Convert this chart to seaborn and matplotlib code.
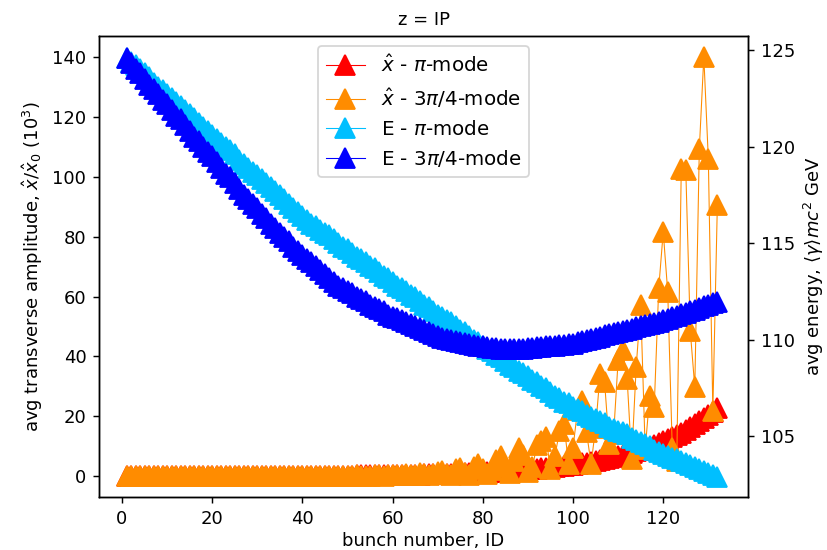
import numpy as np
import matplotlib
matplotlib.use("Agg")
import matplotlib.pyplot as plt
import seaborn as sns

# bunch index
bunch = list(range(1, 133))

# average transverse amplitude, x_hat / x_hat_0 (10^3), pi-mode
amp_pi = [
    0.0, 0.0, 0.0, 0.0, 0.0, 0.0, 0.0, 0.0, 0.0, 0.0,
    0.0, 0.0, 0.0, 0.0, 0.0, 0.0, 0.0, 0.0, 0.0, 0.0,
    0.0, 0.0, 0.0, 0.0, 0.0, 0.0, 0.05, 0.05, 0.05, 0.08,
    0.08, 0.08, 0.09, 0.1, 0.1, 0.1, 0.11, 0.12, 0.13, 0.14,
    0.15, 0.16, 0.17, 0.18, 0.19, 0.2, 0.21, 0.22, 0.23, 0.25,
    0.26, 0.28, 0.29, 0.31, 0.33, 0.35, 0.37, 0.39, 0.41, 0.43,
    0.45, 0.48, 0.5, 0.53, 0.56, 0.6, 0.63, 0.67, 0.71, 0.75,
    0.8, 0.84, 0.89, 0.94, 1.0, 1.05, 1.1, 1.17, 1.23, 1.3,
    1.38, 1.46, 1.54, 1.63, 1.72, 1.82, 1.92, 2.03, 2.15, 2.3,
    2.4, 2.5, 2.65, 2.8, 2.95, 3.1, 3.3, 3.45, 3.65, 3.9,
    4.1, 4.3, 4.6, 4.85, 5.1, 5.4, 5.7, 6.0, 6.4, 6.8,
    7.1, 7.5, 7.9, 8.4, 8.9, 9.4, 9.9, 10.5, 11.1, 11.8,
    12.4, 13.1, 13.8, 14.6, 15.5, 16.4, 17.3, 18.3, 19.4, 20.5, 21.6, 22.8,
]

# average transverse amplitude, 3pi/4-mode
amp_3pi4 = [
    0.0, 0.1, 0.1, 0.0, 0.1, 0.1, 0.0, 0.1, 0.1, 0.1,
    0.1, 0.0, 0.1, 0.1, 0.1, 0.0, 0.1, 0.1, 0.1, 0.1,
    0.1, 0.1, 0.0, 0.1, 0.1, 0.1, 0.1, 0.0, 0.1, 0.1,
    0.1, 0.1, 0.1, 0.0, 0.1, 0.1, 0.2, 0.1, 0.1, 0.1,
    0.2, 0.1, 0.1, 0.2, 0.2, 0.1, 0.1, 0.2, 0.2, 0.1,
    0.2, 0.3, 0.2, 0.1, 0.2, 0.3, 0.3, 0.2, 0.3, 0.5,
    0.3, 0.6, 0.7, 0.4, 0.5, 1.0, 0.9, 0.4, 0.8, 1.6,
    1.8, 0.7, 0.6, 2.4, 2.9, 1.2, 0.6, 3.0, 4.1, 2.5,
    0.8, 2.0, 5.5, 6.9, 3.0, 1.0, 5.0, 9.4, 7.0, 1.5,
    3.0, 10.5, 11.9, 13.0, 2.4, 6.9, 15.0, 17.5, 4.1, 9.6,
    22.0, 25.0, 14.7, 4.1, 16.0, 34.2, 31.4, 10.8, 14.0, 38.7,
    42.0, 32.5, 5.8, 36.4, 57.1, 9.0, 26.9, 23.0, 62.7, 81.6,
    61.5, 9.6, 5.0, 102.6, 102.3, 48.4, 29.7, 109.2, 140.0, 105.9, 21.9, 90.6,
]

# average energy <gamma> m c^2 (GeV), pi-mode
energy_pi = [
    124.6, 124.4, 124.2, 124.0, 123.8, 123.6, 123.3, 123.1, 122.9, 122.7,
    122.5, 122.3, 122.1, 121.9, 121.7, 121.5, 121.2, 121.0, 120.8, 120.6,
    120.4, 120.2, 120.0, 119.8, 119.6, 119.3, 119.1, 118.9, 118.7, 118.5,
    118.3, 118.1, 117.9, 117.7, 117.5, 117.3, 117.0, 116.8, 116.6, 116.4,
    116.2, 116.0, 115.9, 115.7, 115.5, 115.4, 115.2, 115.0, 114.8, 114.7,
    114.5, 114.3, 114.2, 114.0, 113.8, 113.7, 113.5, 113.3, 113.2, 113.0,
    112.8, 112.7, 112.5, 112.3, 112.2, 112.0, 111.8, 111.7, 111.5, 111.3,
    111.2, 111.0, 110.9, 110.7, 110.5, 110.4, 110.2, 110.0, 109.9, 109.7,
    109.5, 109.4, 109.2, 109.1, 108.9, 108.7, 108.6, 108.4, 108.3, 108.1,
    107.9, 107.8, 107.6, 107.5, 107.3, 107.1, 107.0, 106.8, 106.7, 106.5,
    106.4, 106.3, 106.1, 106.0, 105.9, 105.8, 105.7, 105.5, 105.4, 105.3,
    105.2, 105.1, 104.9, 104.8, 104.7, 104.6, 104.5, 104.3, 104.2, 104.1,
    104.0, 103.9, 103.8, 103.7, 103.6, 103.5, 103.4, 103.3, 103.2, 103.1, 103.0, 102.9,
]

# average energy, 3pi/4-mode
energy_3pi4 = [
    124.6, 124.3, 124.0, 123.8, 123.5, 123.2, 123.0, 122.7, 122.4, 122.2,
    121.9, 121.6, 121.4, 121.1, 120.8, 120.5, 120.3, 120.0, 119.7, 119.5,
    119.2, 118.9, 118.6, 118.4, 118.1, 117.8, 117.5, 117.3, 117.0, 116.8,
    116.5, 116.3, 116.0, 115.8, 115.5, 115.3, 115.1, 114.8, 114.6, 114.4,
    114.2, 114.0, 113.8, 113.6, 113.4, 113.2, 113.0, 112.8, 112.7, 112.5,
    112.4, 112.2, 112.1, 112.0, 111.8, 111.7, 111.6, 111.5, 111.3, 111.2,
    111.1, 111.0, 110.9, 110.8, 110.7, 110.6, 110.5, 110.4, 110.3, 110.2,
    110.1, 110.05, 110.0, 109.95, 109.9, 109.85, 109.8, 109.75, 109.7, 109.65,
    109.6, 109.57, 109.55, 109.52, 109.5, 109.5, 109.5, 109.52, 109.53, 109.55,
    109.57, 109.6, 109.62, 109.65, 109.67, 109.7, 109.72, 109.75, 109.77, 109.8,
    109.86, 109.92, 109.98, 110.04, 110.1, 110.16, 110.22, 110.28, 110.34, 110.4,
    110.46, 110.52, 110.58, 110.64, 110.7, 110.76, 110.82, 110.88, 110.94, 111.0,
    111.08, 111.16, 111.24, 111.32, 111.4, 111.48, 111.56, 111.64, 111.72, 111.8, 111.88, 111.95,
]

labels = [
    r"$\hat{x}$ - $\pi$-mode",
    r"$\hat{x}$ - $3\pi/4$-mode",
    r"E - $\pi$-mode",
    r"E - $3\pi/4$-mode",
]
colors = ["#ff0000", "#ff8c00", "#00bfff", "#0000ff"]

DPI = 130
fig = plt.figure(figsize=(827 / DPI, 550 / DPI), dpi=DPI)
ax = fig.add_axes([0.1197, 0.0964, 0.7848, 0.8385])
ax2 = ax.twinx()

style = dict(marker="^", markersize=11, markeredgewidth=1.0, linewidth=0.6,
             estimator=None, errorbar=None, legend=False)

sns.lineplot(x=bunch, y=amp_pi, ax=ax, color=colors[0],
             markeredgecolor=colors[0], label=labels[0], **style)
sns.lineplot(x=bunch, y=amp_3pi4, ax=ax, color=colors[1],
             markeredgecolor=colors[1], label=labels[1], **style)
sns.lineplot(x=bunch, y=energy_pi, ax=ax2, color=colors[2],
             markeredgecolor=colors[2], label=labels[2], **style)
sns.lineplot(x=bunch, y=energy_3pi4, ax=ax2, color=colors[3],
             markeredgecolor=colors[3], label=labels[3], **style)

ax.set_xlim(-5.1, 138.8)
ax.set_ylim(-6.9, 147.0)
ax2.set_ylim(101.86, 125.73)
ax.set_xticks(range(0, 121, 20))
ax.set_yticks(range(0, 141, 20))
ax2.set_yticks([105, 110, 115, 120, 125])

ax.set_xlabel("bunch number, ID", labelpad=2.5)
ax.set_ylabel(r"avg transverse amplitude, $\hat{x}/\hat{x}_0$ ($10^3$)")
ax2.set_ylabel(r"avg energy, $\langle\gamma\rangle mc^2$ GeV")
ax.set_title("z = IP", fontsize=10)

h1, l1 = ax.get_legend_handles_labels()
h2, l2 = ax2.get_legend_handles_labels()
ax2.legend(h1 + h2, l1 + l2, loc="upper center", fontsize=11)

fig.savefig("out.png", dpi=DPI)
